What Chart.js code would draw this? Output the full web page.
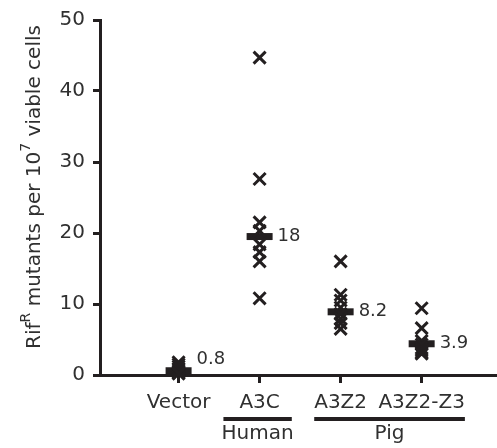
<!DOCTYPE html>
<html>
<head>
<meta charset="utf-8">
<script src="https://cdn.jsdelivr.net/npm/chart.js@4.4.1/dist/chart.umd.min.js"></script>
<style>
html,body{margin:0;padding:0;background:#fff;}
canvas{display:block;}
</style>
</head>
<body>
<canvas id="c" width="497" height="448"></canvas>
<script>
// ---- data ----
const categories = ['Vector', 'A3C', 'A3Z2', 'A3Z2-Z3'];
const vectorValues = [1.8, 1.5, 1.2, 0.9, 0.7, 0.5, 0.3, 0.2];
const a3cValues = [44.7, 27.6, 21.5, 20.3, 18.4, 17.3, 16.0, 10.8];
const a3z2Values = [16.0, 11.3, 10.5, 9.5, 8.6, 7.9, 7.3, 6.5];
const a3z2z3Values = [9.4, 6.6, 4.8, 4.3, 3.8, 3.5, 3.2, 3.0];
const medianValues = [0.6, 19.5, 8.9, 4.4];
const medianLabels = ['0.8', '18', '8.2', '3.9'];
const yTicks = [0, 10, 20, 30, 40, 50];
const groups = [
  { name: 'Human', from: 'A3C', to: 'A3C' },
  { name: 'Pig', from: 'A3Z2', to: 'A3Z2-Z3' }
];

const INK = '#231f20';
const TXT = '#303030';
const FONT = "'DejaVu Sans', sans-serif";
const seriesByCat = [vectorValues, a3cValues, a3z2Values, a3z2z3Values];

const pointData = [];
seriesByCat.forEach((vals, i) => vals.forEach(v => pointData.push({ x: i + 1, y: v })));
const medianData = medianValues.map((v, i) => ({ x: i + 1, y: v }));

const overlay = {
  id: 'overlay',
  afterDraw(chart) {
    const ctx = chart.ctx;
    const xs = chart.scales.x, ys = chart.scales.y;
    const area = chart.chartArea;
    ctx.save();
    ctx.fillStyle = TXT;
    // median labels
    ctx.font = '18px ' + FONT;
    ctx.textBaseline = 'middle';
    ctx.textAlign = 'left';
    medianValues.forEach((v, i) => {
      const px = xs.getPixelForValue(i + 1) + 18;
      const py = Math.min(ys.getPixelForValue(v), area.bottom - 16);
      ctx.fillText(medianLabels[i], px, py);
    });
    // group lines and names
    ctx.font = '20px ' + FONT;
    const lineY = area.bottom + 44;
    groups.forEach(g => {
      const i1 = categories.indexOf(g.from) + 1, i2 = categories.indexOf(g.to) + 1;
      const w1 = ctx.measureText(g.from).width, w2 = ctx.measureText(g.to).width;
      let left = xs.getPixelForValue(i1) - w1 / 2;
      let right = xs.getPixelForValue(i2) + w2 / 2;
      if (i1 === i2) { left -= 16; right += 12; }
      ctx.fillStyle = INK;
      ctx.fillRect(left, lineY - 2, right - left, 4);
      ctx.fillStyle = TXT;
      ctx.textAlign = 'center';
      ctx.textBaseline = 'middle';
      ctx.fillText(g.name, (left + right) / 2, lineY + 15);
    });
    // y-axis title with superscripts
    const segs = [
      { t: 'Rif', s: 20, up: 0 },
      { t: 'R', s: 14, up: 10 },
      { t: ' mutants per 10', s: 20, up: 0 },
      { t: '7', s: 14, up: 10 },
      { t: ' viable cells', s: 20, up: 0 }
    ];
    let total = 0;
    segs.forEach(sg => { ctx.font = sg.s + 'px ' + FONT; sg.w = ctx.measureText(sg.t).width; total += sg.w; });
    ctx.translate(40, 187);
    ctx.rotate(-Math.PI / 2);
    ctx.textAlign = 'left';
    ctx.textBaseline = 'alphabetic';
    let cx = -total / 2;
    segs.forEach(sg => {
      ctx.font = sg.s + 'px ' + FONT;
      ctx.fillText(sg.t, cx, -sg.up);
      cx += sg.w;
    });
    ctx.restore();
  }
};

new Chart(document.getElementById('c'), {
  type: 'scatter',
  data: {
    datasets: [
      {
        data: pointData,
        pointStyle: 'crossRot',
        radius: 8.5,
        borderWidth: 3,
        borderColor: INK,
        backgroundColor: INK,
        clip: false
      },
      {
        data: medianData,
        pointStyle: 'line',
        radius: 13,
        borderWidth: 7,
        borderColor: INK,
        backgroundColor: INK,
        clip: false
      }
    ]
  },
  options: {
    responsive: false,
    animation: false,
    devicePixelRatio: 1,
    layout: { autoPadding: false, padding: { top: 17, right: 0, left: 0, bottom: 0 } },
    plugins: { legend: { display: false }, tooltip: { enabled: false } },
    scales: {
      x: {
        type: 'linear',
        min: 0.03, max: 4.93,
        afterBuildTicks: s => { s.ticks = categories.map((c, i) => ({ value: i + 1 })); },
        afterFit: s => { s.height = 73; s.paddingLeft = 0; s.paddingRight = 0; },
        ticks: {
          callback: v => categories[v - 1] || '',
          color: TXT,
          font: { family: FONT, size: 20 },
          padding: 8,
          maxRotation: 0,
          autoSkip: false
        },
        grid: { drawOnChartArea: false, drawTicks: true, tickLength: 8, lineWidth: 3, color: INK },
        border: { display: true, width: 3, color: INK }
      },
      y: {
        type: 'linear',
        min: 0, max: 50,
        afterBuildTicks: s => { s.ticks = yTicks.map(v => ({ value: v })); },
        afterFit: s => { s.width = 100; },
        ticks: {
          color: TXT,
          font: { family: FONT, size: 20 },
          padding: 8
        },
        grid: { drawOnChartArea: false, drawTicks: true, tickLength: 7, lineWidth: 3, color: INK },
        border: { display: true, width: 3, color: INK }
      }
    }
  },
  plugins: [overlay]
});
</script>
</body>
</html>
